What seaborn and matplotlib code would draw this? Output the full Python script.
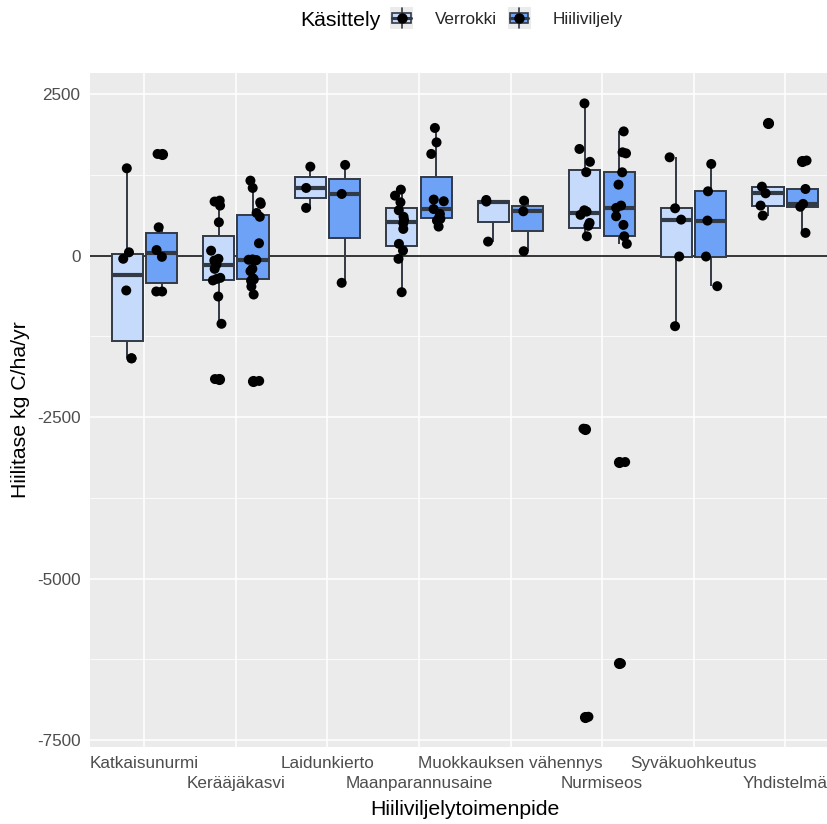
import numpy as np
import pandas as pd
import matplotlib
matplotlib.use("Agg")
import matplotlib.pyplot as plt
import seaborn as sns
from matplotlib.legend_handler import HandlerBase
from matplotlib.patches import Rectangle, Patch
from matplotlib.lines import Line2D
from matplotlib.ticker import FixedLocator

# ---------------- data ----------------
categories = ["Katkaisunurmi", "Kerääjäkasvi", "Laidunkierto", "Maanparannusaine",
              "Muokkauksen vähennys", "Nurmiseos", "Syväkuohkeutus", "Yhdistelmä"]
hue_levels = ["Verrokki", "Hiiliviljely"]

katk_v = [1350, 50, -50, -540, -1590, -1590]
katk_h = [1572, 437, 85, -20, -556, -556]
kera_v = [850, 835, 773, 515, 75, -51, -77, -139, -206, -345, -361, -385, -634, -1056, -1911]
kera_h = [1159, 1046, 824, 799, 658, 600, 190, -60, -65, -70, -77, -206, -242, -352, -370,
          -390, -479, -603, -1940]
laid_v = [1375, 1046, 737]
laid_h = [1402, 953, -422]
maan_v = [1020, 927, 824, 700, 600, 550, 500, 412, 181, 77, -51, -567]
maan_h = [1974, 1751, 1572, 866, 840, 720, 644, 600, 567, 541, 448]
muok_v = [860, 835, 216]
muok_h = [850, 685, 67]
nurm_v = [2354, 1649, 1450, 1290, 700, 680, 630, 505, 460, 298, -2679, -7136]
nurm_h = [1921, 1597, 1581, 1288, 1097, 773, 737, 608, 474, 298, 181, -3195, -6311]
syva_v = [1520, 731, 556, -15, -1093]
syva_h = [1417, 994, 541, -15, -474]
yhdi_v = [2045, 1066, 963, 773, 618]
yhdi_h = [1470, 1030, 799, 755, 351]

verrokki = [katk_v, kera_v, laid_v, maan_v, muok_v, nurm_v, syva_v, yhdi_v]
hiiliviljely = [katk_h, kera_h, laid_h, maan_h, muok_h, nurm_h, syva_h, yhdi_h]

y_ticks = [-7500, -5000, -2500, 0, 2500]
y_ticklabels = ["-7500", "-5000", "-2500", "0", "2500"]

rows = []
for cat, v, h in zip(categories, verrokki, hiiliviljely):
    rows += [(cat, "Verrokki", x) for x in v]
    rows += [(cat, "Hiiliviljely", x) for x in h]
df = pd.DataFrame(rows, columns=["toimenpide", "kasittely", "tase"])

# ---------------- style ----------------
sns.set_theme(style="darkgrid")
plt.rcParams["font.family"] = ["Liberation Sans", "DejaVu Sans"]

palette = {"Verrokki": "#C6DBFB", "Hiiliviljely": "#6EA2F6"}
EDGE = "#323A46"
TICK_FS = 12.3
TITLE_FS = 15.3

fig = plt.figure(figsize=(8.27, 8.24), dpi=100)
W, H = 827, 824
left_px, right_px, top_px, bot_px = 89.5, 840.0, 72.7, 747.4
ax = fig.add_axes([left_px / W, (H - bot_px) / H, (right_px - left_px) / W, (bot_px - top_px) / H])
ax.set_facecolor("#EBEBEB")

sns.boxplot(data=df, x="toimenpide", y="tase", hue="kasittely", order=categories,
            hue_order=hue_levels, palette=palette, saturation=1, width=0.75, gap=0.09,
            linecolor=EDGE, linewidth=1.4, fliersize=7, showcaps=False,
            medianprops=dict(color=EDGE, linewidth=3.0),
            flierprops=dict(marker="o", markerfacecolor="black", markeredgecolor="black",
                            markersize=7),
            legend=False, ax=ax, zorder=2)

np.random.seed(3)
sns.stripplot(data=df, x="toimenpide", y="tase", hue="kasittely", order=categories,
              hue_order=hue_levels, palette={"Verrokki": "black", "Hiiliviljely": "black"},
              dodge=True, jitter=0.15, size=7.2, linewidth=0, legend=False, ax=ax, zorder=3)

ax.axhline(0, color="black", lw=1.1, zorder=1.5)

ax.set_xlim(-0.6, 7.6)
ax.set_ylim(-7610, 2829)

ax.set_yticks(y_ticks)
ax.set_yticklabels(y_ticklabels)
ax.yaxis.set_minor_locator(FixedLocator([-6250, -3750, -1250, 1250]))
ax.set_xticks(range(len(categories)))
ax.set_xticklabels(categories)

ax.set_axisbelow(True)
ax.grid(True, which="major", color="white", lw=1.1)
ax.grid(True, which="minor", axis="y", color="white", lw=0.55)
ax.grid(False, which="minor", axis="x")
for s in ax.spines.values():
    s.set_visible(False)

ax.tick_params(axis="both", which="major", length=4, width=1.1, color="#333333",
               labelcolor="#4D4D4D", labelsize=TICK_FS, pad=2.5)
ax.tick_params(axis="both", which="minor", length=0)
ax.tick_params(axis="x", which="major", pad=2)
# two-row (dodged) x labels
for i, tick in enumerate(ax.xaxis.get_major_ticks()):
    if i % 2 == 1:
        tick.set_pad(2 + 14.8)

ax.set_xlabel("Hiiliviljelytoimenpide", fontsize=TITLE_FS, color="black", labelpad=6)
ax.set_ylabel("Hiilitase kg C/ha/yr", fontsize=TITLE_FS, color="black", labelpad=5)


# ---------------- legend ----------------
class BoxKeyHandler(HandlerBase):
    def create_artists(self, legend, orig_handle, xdescent, ydescent, width, height,
                       fontsize, trans):
        x0, y0 = -xdescent, -ydescent
        fc = orig_handle.get_facecolor()
        cx = x0 + width / 2
        bg = Rectangle((x0, y0), width, height, facecolor="#EBEBEB", edgecolor="none",
                       transform=trans)
        bx = Rectangle((x0 + 0.1 * width, y0 + 0.27 * height), 0.8 * width, 0.46 * height,
                       facecolor=fc, edgecolor=EDGE, lw=1.2, transform=trans)
        w1 = Line2D([cx, cx], [y0 + 0.04 * height, y0 + 0.27 * height], color=EDGE, lw=1.2,
                    transform=trans)
        w2 = Line2D([cx, cx], [y0 + 0.73 * height, y0 + 0.96 * height], color=EDGE, lw=1.2,
                    transform=trans)
        med = Line2D([x0 + 0.1 * width, x0 + 0.9 * width], [y0 + 0.5 * height] * 2,
                     color=EDGE, lw=2.2, transform=trans)
        dot = Line2D([cx], [y0 + 0.5 * height], marker="o", ms=6.5, color="black",
                     ls="none", transform=trans)
        return [bg, w1, w2, bx, med, dot]


handles = [Patch(facecolor=palette[h], label=h) for h in hue_levels]
fig.text(381 / W, 1 - 21 / H, "Käsittely", ha="right", va="center", fontsize=TITLE_FS,
         color="black")
fig.legend(handles=handles, labels=hue_levels, handler_map={Patch: BoxKeyHandler()},
           loc="center left", bbox_to_anchor=(390 / W, 1 - 18 / H), ncol=2, frameon=False,
           fontsize=TICK_FS, handlelength=1.35, handleheight=1.55, handletextpad=1.3,
           columnspacing=0.6, borderpad=0, borderaxespad=0)

fig.savefig("out.png", dpi=100)
